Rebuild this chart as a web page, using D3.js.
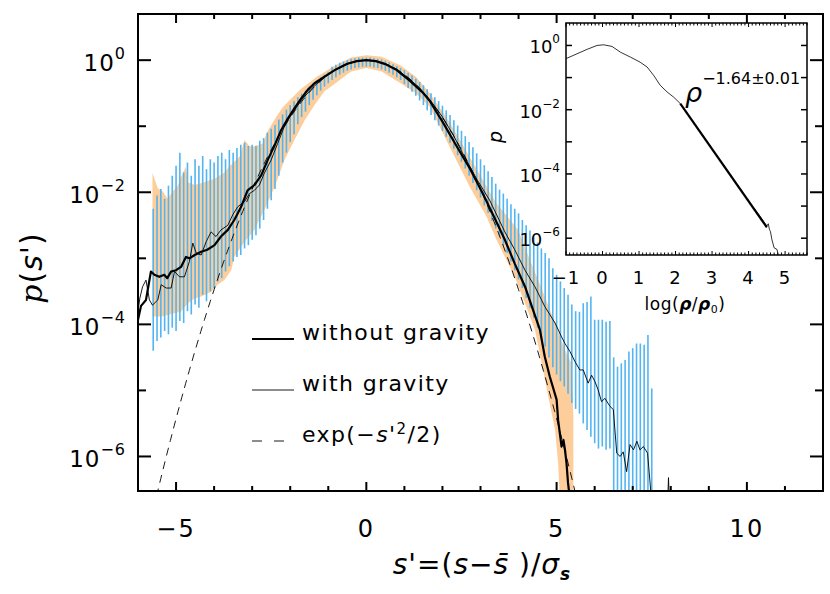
<!DOCTYPE html>
<html lang="en">
<head>
<meta charset="utf-8">
<script src="https://cdn.jsdelivr.net/npm/d3@7"></script>
<style>
    body { margin: 0; background: #fff; }
    text { font-family: "DejaVu Sans", sans-serif; fill: #000; }
</style>
</head>
<body>
<svg width="830" height="594"></svg>
<script>
// all p values are stored as log10(p)

// without gravity (thick line)
var thickCurve = [
    [-6.0,-3.93],[-5.92,-3.72],[-5.79,-3.63],[-5.66,-3.20],[-5.57,-3.25],[-5.44,-3.28],[-5.31,-3.25],
    [-5.23,-3.30],[-5.13,-3.20],[-5.0,-3.18],[-4.87,-3.13],[-4.74,-2.98],[-4.65,-3.0],[-4.51,-2.95],
    [-4.34,-2.90],[-4.18,-2.87],[-3.99,-2.80],[-3.82,-2.67],[-3.64,-2.57],[-3.47,-2.42],[-3.29,-2.22],
    [-3.12,-1.97],[-2.94,-1.89],[-2.76,-1.74],[-2.59,-1.51],[-2.41,-1.29],[-2.24,-1.06],[-2.06,-0.88],
    [-1.89,-0.73],[-1.71,-0.58],[-1.54,-0.45],[-1.36,-0.35],[-1.10,-0.25],[-0.8,-0.14],[-0.5,-0.055],
    [-0.25,-0.015],[0,0],[0.25,-0.015],[0.5,-0.06],[0.8,-0.15],[1.14,-0.31],[1.5,-0.5],[1.67,-0.62],
    [2.02,-0.95],[2.37,-1.30],[2.72,-1.64],[3.07,-2.03],[3.42,-2.45],[3.64,-2.72],[3.90,-3.08],
    [4.17,-3.43],[4.38,-3.78],[4.56,-4.08],[4.69,-4.49],[4.82,-4.79],[5.0,-5.14],[5.04,-5.45],
    [5.13,-5.85],[5.18,-5.75],[5.22,-5.9],[5.26,-6.10],[5.3,-6.40],[5.36,-6.7]
];

// with gravity (thin line)
var thinCurve = [
    [-6.0,-3.80],[-5.95,-3.60],[-5.88,-3.43],[-5.79,-3.33],[-5.70,-3.63],[-5.62,-3.71],[-5.48,-3.63],
    [-5.39,-3.40],[-5.26,-3.45],[-5.13,-3.45],[-5.04,-3.20],[-4.91,-3.28],[-4.78,-3.28],[-4.65,-3.05],
    [-4.56,-2.77],[-4.47,-2.92],[-4.34,-2.95],[-4.21,-2.75],[-4.08,-2.60],[-3.95,-2.67],[-3.82,-2.57],
    [-3.64,-2.50],[-3.51,-2.34],[-3.38,-2.22],[-3.20,-2.14],[-3.07,-2.02],[-2.94,-1.97],[-2.81,-1.89],
    [-2.68,-1.71],[-2.50,-1.51],[-2.33,-1.26],[-2.15,-1.00],[-2.0,-0.85],[-1.7,-0.60],[-1.4,-0.41],
    [-1.1,-0.26],[-0.8,-0.14],[-0.5,-0.06],[-0.25,-0.015],[0,0],[0.25,-0.015],[0.5,-0.055],[0.8,-0.14],
    [1.1,-0.27],[1.4,-0.42],[1.7,-0.62],[2.0,-0.86],[2.3,-1.15],[2.54,-1.42],[2.9,-1.80],[3.24,-2.12],
    [3.64,-2.60],[3.90,-2.87],[4.17,-3.18],[4.43,-3.43],[4.69,-3.73],[4.96,-3.98],[5.13,-4.19],
    [5.22,-4.29],[5.35,-4.41],[5.48,-4.56],[5.61,-4.69],[5.70,-4.69],[5.83,-4.89],[5.92,-4.77],
    [6.01,-4.87],[6.09,-4.99],[6.18,-5.17],[6.27,-5.12],[6.40,-5.24],[6.49,-5.29],[6.58,-5.95],
    [6.67,-6.00],[6.75,-5.93],[6.84,-6.23],[6.93,-5.82],[7.02,-5.90],[7.11,-5.77],[7.19,-5.90],
    [7.28,-5.85],[7.39,-5.95],[7.50,-6.7],[7.9,-7.0],[7.94,-6.32],[7.98,-7.0]
];

// orange range of the run without gravity
var bandUpper = [
    [-5.62,-1.71],[-5.48,-1.94],[-5.35,-1.99],[-5.22,-2.1],[-5.09,-1.99],[-4.96,-1.9],[-4.87,-1.77],
    [-4.74,-1.61],[-4.69,-1.85],[-4.51,-1.89],[-4.26,-1.85],[-3.99,-1.79],[-3.73,-1.70],[-3.60,-1.61],
    [-3.33,-1.46],[-3.20,-1.21],[-3.07,-1.30],[-2.98,-1.31],[-2.72,-1.26],[-2.63,-1.11],[-2.37,-0.86],
    [-2.19,-0.71],[-1.75,-0.45],[-1.3,-0.25],[-0.88,-0.10],[-0.4,0.04],[0,0.075],[0.4,0.05],[0.9,-0.08],
    [1.3,-0.25],[1.67,-0.50],[2.2,-0.95],[2.6,-1.35],[3.0,-1.75],[3.4,-2.15],[3.82,-2.45],[3.99,-2.57],
    [4.34,-3.08],[4.69,-3.58],[4.96,-3.98],[5.22,-4.39],[5.39,-4.59],[5.44,-5.4],[5.44,-6.7]
];
var bandLower = [
    [-5.62,-3.88],[-5.39,-3.88],[-5.22,-3.86],[-5.04,-3.83],[-4.87,-3.81],[-4.69,-3.68],[-4.51,-3.61],
    [-4.34,-3.58],[-4.08,-3.51],[-3.91,-3.40],[-3.73,-3.33],[-3.55,-3.18],[-3.47,-2.98],[-3.20,-2.75],
    [-2.94,-2.57],[-2.68,-2.27],[-2.41,-1.92],[-2.15,-1.51],[-1.89,-1.21],[-1.62,-0.91],[-1.36,-0.68],
    [-1.10,-0.47],[-0.88,-0.38],[-0.4,-0.17],[0,-0.12],[0.4,-0.17],[0.9,-0.35],[1.3,-0.5],[1.67,-0.71],
    [2.19,-1.31],[2.72,-1.92],[3.16,-2.37],[3.42,-2.72],[3.90,-3.28],[4.17,-3.68],[4.43,-4.08],
    [4.61,-4.59],[4.78,-5.09],[4.96,-5.6],[5.04,-6.10],[5.09,-6.7]
];

// blue error bars of the run with gravity, one per bin of 0.1 starting at s' = -5.6
var barStart = -5.6, barStep = 0.1;
var barHi = [
    -2.25,-2.05,-1.95,-2.10,-1.90,-1.75,-1.60,-1.40,-1.70,-1.55,
    -1.75,-1.50,-1.60,-1.45,-1.65,-1.50,-1.55,-1.45,-1.40,-1.50,
    -1.36,-1.40,-1.33,-1.28,-1.25,-1.30,-1.28,-1.30,-1.22,-1.18,
    -1.10,-1.04,-0.98,-0.90,-0.82,-0.75,-0.68,-0.62,-0.56,-0.51,
    -0.46,-0.40,-0.35,-0.30,-0.26,-0.22,-0.18,-0.10,-0.07,-0.04,
    -0.02,0.00,0.02,0.03,0.04,0.04,0.04,0.04,0.03,0.02,
    0.01,-0.01,-0.03,-0.06,-0.09,-0.12,-0.15,-0.19,-0.23,-0.28,
    -0.33,-0.38,-0.44,-0.50,-0.56,-0.62,-0.69,-0.76,-0.83,-0.91,
    -0.99,-1.07,-1.15,-1.24,-1.32,-1.41,-1.50,-1.59,-1.68,-1.77,
    -1.87,-1.96,-2.02,-2.10,-2.18,-2.25,-2.32,-2.42,-2.50,-2.58,
    -2.68,-2.76,-2.85,-2.92,-3.00,-3.15,-3.25,-3.35,-3.45,-3.55,
    -3.70,-3.80,-3.81,-3.68,-3.66,-3.58,-3.93,-3.93,-3.93,-3.96,
    -3.95,-4.50,-4.64,-4.59,-4.54,-4.41,-4.36,-4.29,-4.29,-4.31,
    -4.16,-4.97
];
var barLo = [
    -4.40,-4.25,-4.20,-4.10,-4.15,-4.05,-4.10,-3.95,-3.98,-3.80,
    -3.85,-3.70,-3.75,-3.55,-3.65,-3.50,-3.45,-3.35,-3.30,-3.20,
    -3.12,-3.05,-2.98,-2.95,-2.85,-2.80,-2.72,-2.65,-2.55,-2.42,
    -2.25,-2.12,-1.95,-1.75,-1.55,-1.40,-1.24,-1.12,-0.97,-0.86,
    -0.78,-0.68,-0.60,-0.53,-0.46,-0.40,-0.35,-0.30,-0.26,-0.22,
    -0.19,-0.16,-0.14,-0.12,-0.11,-0.10,-0.10,-0.10,-0.11,-0.12,
    -0.14,-0.16,-0.19,-0.22,-0.26,-0.30,-0.36,-0.42,-0.48,-0.54,
    -0.61,-0.68,-0.76,-0.83,-0.91,-0.99,-1.07,-1.16,-1.25,-1.34,
    -1.44,-1.54,-1.64,-1.75,-1.86,-1.97,-2.08,-2.20,-2.31,-2.43,
    -2.55,-2.67,-2.80,-2.92,-3.05,-3.18,-3.32,-3.45,-3.60,-3.75,
    -3.90,-4.05,-4.22,-4.34,-4.50,-4.65,-4.76,-4.86,-4.94,-5.05,
    -5.19,-5.28,-5.35,-5.50,-5.60,-5.70,-5.80,-5.88,-5.85,-5.90,
    -5.88,-7.0,-7.0,-7.0,-7.0,-7.0,-7.0,-7.0,-7.0,-7.0,
    -7.0,-7.0
];

// inset: PDF against log(rho/rho0)
var insetCurve = [
    [-1.0,-0.41],[-0.70,-0.26],[-0.42,-0.12],[-0.15,0],[0.03,0.02],[0.26,-0.03],[0.49,-0.21],
    [0.76,-0.36],[1.03,-0.52],[1.22,-0.67],[1.40,-0.93],[1.58,-1.24],[1.77,-1.45],[1.95,-1.61],
    [2.13,-1.81],[2.5,-2.40],[3.0,-3.22],[3.5,-4.02],[4.0,-4.85],[4.3,-5.30],[4.50,-5.62],
    [4.54,-5.55],[4.57,-5.72],[4.60,-5.80],[4.64,-6.05],[4.70,-6.30],[4.78,-6.35],[4.82,-6.6]
];
var insetFit = [[2.13,-1.81],[4.50,-5.66]];

var xTicks = [-5, 0, 5, 10];
var yTickExp = [0, -2, -4, -6];
var insetXTicks = [-1, 0, 1, 2, 3, 4, 5];
var insetYTickExp = [0, -2, -4, -6];
var legendLabels = ["without gravity", "with gravity", "gauss"];

var svg = d3.select("svg");

var x = d3.scaleLinear().domain([-6, 12]).range([138, 823]);
var y = d3.scaleLog().domain([3e-7, 5]).range([491, 14]);
function p(v) { return Math.pow(10, v); }

svg.append("clipPath").attr("id", "plotclip")
    .append("rect").attr("x", 138).attr("y", 14).attr("width", 685).attr("height", 477);

var plot = svg.append("g").attr("clip-path", "url(#plotclip)");

// orange band
var bandPoly = bandUpper.concat(bandLower.slice().reverse());
plot.append("path")
    .attr("d", d3.line().x(function(d) { return x(d[0]); }).y(function(d) { return y(p(d[1])); })(bandPoly) + "Z")
    .attr("fill", "#fdcd9b")
    .attr("stroke", "none");

// blue error bars
plot.selectAll(".bar")
    .data(barHi.map(function(h, i) { return { s: barStart + i * barStep, hi: h, lo: barLo[i] }; }))
    .enter().append("line")
    .attr("x1", function(d) { return x(d.s); })
    .attr("x2", function(d) { return x(d.s); })
    .attr("y1", function(d) { return y(p(d.hi)); })
    .attr("y2", function(d) { return y(p(d.lo)); })
    .attr("stroke", "#52b5f2")
    .attr("stroke-width", 1.6);

var line = d3.line().x(function(d) { return x(d[0]); }).y(function(d) { return y(p(d[1])); });

// exp(-s^2/2) reference
var gaussS = d3.range(-5.6, 5.61, 0.05);
plot.append("path")
    .attr("d", d3.line().x(function(s) { return x(s); }).y(function(s) { return y(Math.exp(-s * s / 2)); })(gaussS))
    .attr("fill", "none").attr("stroke", "#000").attr("stroke-width", 0.9)
    .attr("stroke-dasharray", "8,6");

plot.append("path").attr("d", line(thinCurve))
    .attr("fill", "none").attr("stroke", "#000").attr("stroke-width", 0.9);
plot.append("path").attr("d", line(thickCurve))
    .attr("fill", "none").attr("stroke", "#000").attr("stroke-width", 2.2)
    .attr("stroke-linejoin", "round");

// main frame and ticks
var axisG = svg.append("g").attr("stroke", "#000").attr("stroke-width", 2);
axisG.append("rect").attr("x", 138).attr("y", 14).attr("width", 685).attr("height", 477).attr("fill", "none");

d3.range(-6, 13, 1).forEach(function(v) {
    var len = (v % 5 == 0) ? 9 : 5;
    axisG.append("line").attr("x1", x(v)).attr("x2", x(v)).attr("y1", 491).attr("y2", 491 - len);
    axisG.append("line").attr("x1", x(v)).attr("x2", x(v)).attr("y1", 14).attr("y2", 14 + len);
});
d3.range(-6, 1, 1).forEach(function(e) {
    var len = (e % 2 == 0) ? 13 : 8;
    var yy = y(p(e));
    axisG.append("line").attr("x1", 138).attr("x2", 138 + len).attr("y1", yy).attr("y2", yy);
    axisG.append("line").attr("x1", 823).attr("x2", 823 - len).attr("y1", yy).attr("y2", yy);
});

svg.selectAll(".xlab").data(xTicks).enter().append("text")
    .attr("x", function(d) { return x(d); })
    .attr("y", 537)
    .attr("text-anchor", "middle")
    .attr("font-size", 24)
    .attr("letter-spacing", 2)
    .text(function(d) { return d < 0 ? "\u2212" + Math.abs(d) : d; });

yTickExp.forEach(function(e) {
    var t = svg.append("text")
        .attr("x", 126)
        .attr("y", y(p(e)) + 11)
        .attr("text-anchor", "end")
        .attr("font-size", 23)
        .attr("letter-spacing", 1);
    t.append("tspan").text("10");
    t.append("tspan").attr("dy", -12).attr("font-size", 16)
        .text(e < 0 ? "\u2212" + Math.abs(e) : e);
});

// axis titles
var xt = svg.append("text").attr("x", 482).attr("y", 574).attr("text-anchor", "middle")
    .attr("font-size", 28).attr("letter-spacing", 1);
xt.append("tspan").attr("font-style", "italic").text("s");
xt.append("tspan").text("'=(");
xt.append("tspan").attr("font-style", "italic").text("s");
xt.append("tspan").text("\u2212");
xt.append("tspan").attr("font-style", "italic").text("s\u0304");
xt.append("tspan").text(" )/");
xt.append("tspan").attr("font-style", "italic").text("\u03c3");
xt.append("tspan").attr("font-style", "italic").attr("font-weight", "bold").attr("font-size", 17).attr("dy", 6).text("s");

var yt = svg.append("text").attr("transform", "translate(42,268) rotate(-90)")
    .attr("text-anchor", "middle").attr("font-size", 30).attr("letter-spacing", 1);
yt.append("tspan").attr("font-style", "italic").attr("font-family", "DejaVu Serif").text("p");
yt.append("tspan").text("(");
yt.append("tspan").attr("font-style", "italic").text("s");
yt.append("tspan").text("')");

// legend
var legY = [339, 390, 441];
legendLabels.forEach(function(name, i) {
    var l = svg.append("line").attr("x1", 252).attr("x2", 294).attr("y1", legY[i]).attr("y2", legY[i])
        .attr("stroke", "#000");
    if (i == 0) l.attr("stroke-width", 2.2);
    if (i == 1) l.attr("stroke-width", 0.9);
    if (i == 2) l.attr("stroke-width", 0.9).attr("stroke-dasharray", "10,12");
    var t = svg.append("text").attr("x", 302).attr("y", legY[i] + 1)
        .attr("font-size", 22).attr("letter-spacing", 1.4);
    if (i < 2) {
        t.text(name);
    } else {
        t.append("tspan").text("exp(\u2212");
        t.append("tspan").attr("font-style", "italic").text("s");
        t.append("tspan").text("'");
        t.append("tspan").attr("dy", -8).attr("font-size", 15).text("2");
        t.append("tspan").attr("dy", 8).text("/2)");
    }
});

// inset
var xi = d3.scaleLinear().domain([-1, 5.6]).range([566, 807]);
var yi = d3.scaleLog().domain([3e-7, 5]).range([255, 23]);

svg.append("clipPath").attr("id", "insetclip")
    .append("rect").attr("x", 566).attr("y", 23).attr("width", 241).attr("height", 232);

var inset = svg.append("g");
var iline = d3.line().x(function(d) { return xi(d[0]); }).y(function(d) { return yi(p(d[1])); });
inset.append("g").attr("clip-path", "url(#insetclip)")
    .append("path").attr("d", iline(insetCurve))
    .attr("fill", "none").attr("stroke", "#000").attr("stroke-width", 0.8);
inset.append("path").attr("d", iline(insetFit))
    .attr("fill", "none").attr("stroke", "#000").attr("stroke-width", 2.2);

var ig = inset.append("g").attr("stroke", "#000").attr("stroke-width", 1.5);
ig.append("rect").attr("x", 566).attr("y", 23).attr("width", 241).attr("height", 232).attr("fill", "none");
d3.range(-1, 5.61, 0.1).forEach(function(v) {
    var len = Math.abs(v - Math.round(v)) < 1e-6 ? 4 : 2.5;
    ig.append("line").attr("x1", xi(v)).attr("x2", xi(v)).attr("y1", 255).attr("y2", 255 - len).attr("stroke-width", 1);
    ig.append("line").attr("x1", xi(v)).attr("x2", xi(v)).attr("y1", 23).attr("y2", 23 + len).attr("stroke-width", 1);
});
d3.range(-6, 1, 1).forEach(function(e) {
    var yy = yi(p(e));
    ig.append("line").attr("x1", 566).attr("x2", 572).attr("y1", yy).attr("y2", yy);
    ig.append("line").attr("x1", 807).attr("x2", 801).attr("y1", yy).attr("y2", yy);
});

inset.selectAll(".ixl").data(insetXTicks).enter().append("text")
    .attr("x", function(d) { return xi(d); })
    .attr("y", 284)
    .attr("text-anchor", "middle")
    .attr("font-size", 18)
    .attr("letter-spacing", 1)
    .text(function(d) { return d < 0 ? "\u2212" + Math.abs(d) : d; });

insetYTickExp.forEach(function(e) {
    var t = inset.append("text")
        .attr("x", 560)
        .attr("y", yi(p(e)) + 8)
        .attr("text-anchor", "end")
        .attr("font-size", 18);
    t.append("tspan").text("10");
    t.append("tspan").attr("dy", -10).attr("font-size", 12)
        .text(e < 0 ? "\u2212" + Math.abs(e) : e);
});

var ixt = inset.append("text").attr("x", 685).attr("y", 310).attr("text-anchor", "middle")
    .attr("font-size", 17).attr("letter-spacing", 0.5);
ixt.append("tspan").text("log(");
ixt.append("tspan").attr("font-style", "italic").attr("font-weight", "bold").text("\u03c1");
ixt.append("tspan").text("/");
ixt.append("tspan").attr("font-style", "italic").attr("font-weight", "bold").text("\u03c1");
ixt.append("tspan").attr("font-size", 11).attr("dy", 3).text("0");
ixt.append("tspan").attr("dy", -3).text(")");

inset.append("text").attr("transform", "translate(502,137) rotate(-90)")
    .attr("text-anchor", "middle").attr("font-size", 19)
    .attr("font-style", "italic").attr("font-family", "DejaVu Serif").text("p");

var fit = inset.append("text").attr("x", 685).attr("y", 102).attr("font-size", 27);
fit.append("tspan").attr("font-style", "italic").text("\u03c1");
fit.append("tspan").attr("dy", -18).attr("font-size", 16).text("\u22121.64\u00b10.01");
</script>
</body>
</html>
